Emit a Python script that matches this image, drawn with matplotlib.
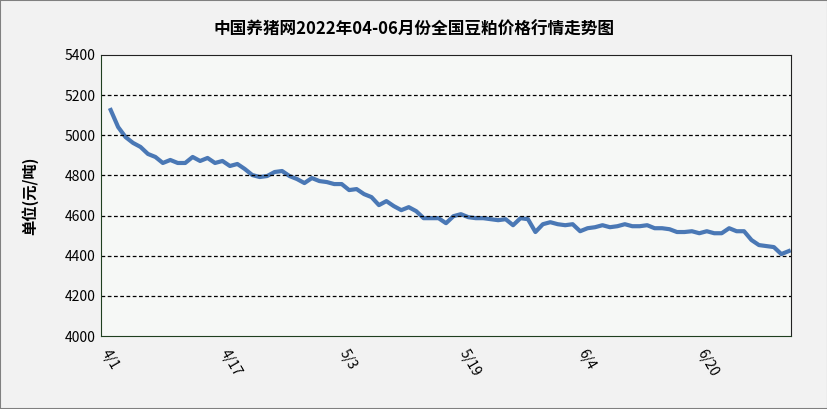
import matplotlib
matplotlib.use("Agg")
import matplotlib.pyplot as plt

plt.rcParams['font.family'] = ['Noto Sans CJK SC', 'DejaVu Sans']

prices = [5126,5041,4991,4962,4942,4907,4892,4862,4877,4862,4862,4892,4872,4887,4862,4872,
          4847,4857,4832,4802,4792,4797,4817,4822,4797,4782,4762,4787,4772,4767,4757,4757,
          4727,4732,4707,4692,4652,4672,4647,4627,4642,4622,4587,4587,4587,4562,4597,4607,
          4592,4587,4587,4582,4577,4582,4552,4587,4582,4518,4557,4567,4557,4552,4557,4522,
          4537,4542,4552,4542,4547,4557,4547,4547,4552,4537,4537,4532,4518,4518,4522,4512,
          4522,4512,4512,4537,4522,4522,4478,4453,4448,4443,4408,4423]
tick_pos = [0,16,32,48,64,80]
tick_labels = ['4/1','4/17','5/3','5/19','6/4','6/20']
yticks = [4000,4200,4400,4600,4800,5000,5200,5400]

W,H = 828,409
fig = plt.figure(figsize=(W/100,H/100), dpi=100, facecolor='#f2f2f2')
fig.patches.append(plt.Rectangle((0,0),1,1,transform=fig.transFigure,fill=False,ec='#808080',lw=1.5))
ax = fig.add_axes([101/W, 1-336/H, 690/W, 281/H])
ax.set_facecolor('#f6f8f6')
x = list(range(len(prices)))
ax.plot(x, prices, color='#4a78b5', lw=3)
ax.set_xlim(-1.3, 91.3)
ax.set_ylim(4000,5400)
ax.set_yticks(yticks)
ax.set_yticklabels([str(v) for v in yticks], fontsize=10)
ax.set_xticks(tick_pos)
ax.set_xticklabels(tick_labels, rotation=-60, ha='left', rotation_mode='anchor', fontsize=10)
ax.tick_params(axis='x', length=0, pad=8)
ax.tick_params(axis='y', length=0, pad=4)
for v in yticks[1:-1]:
    ax.axhline(v, color='black', lw=0.9, ls=(0,(3,2)))
for s in ['top','right']:
    ax.spines[s].set_color('#222222')
ax.spines['left'].set_color('#1f3f1f')
ax.spines['bottom'].set_color('#1f3f1f')
ax.spines['right'].set_visible(True)
fig.text(0.5, 1-30/H, '中国养猪网2022年04-06月份全国豆粕价格行情走势图', ha='center', va='center',
         fontsize=12, fontweight='bold')
fig.text(30/W, 1-196/H, '单位(元/吨)', rotation=90, ha='center', va='center', fontsize=11, fontweight='bold')
fig.savefig('out.png', dpi=100, facecolor=fig.get_facecolor())
